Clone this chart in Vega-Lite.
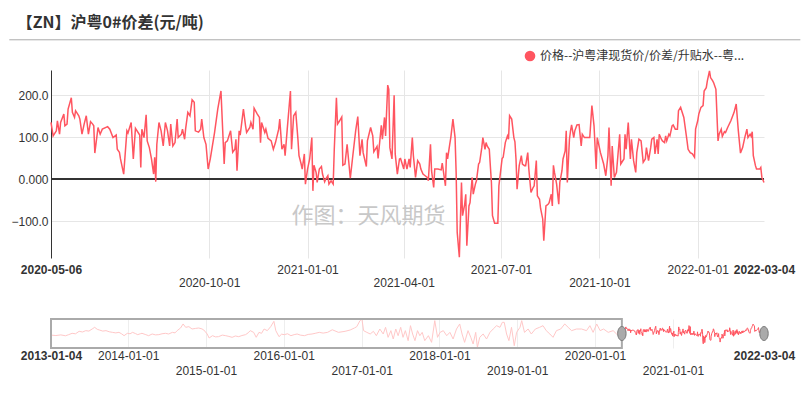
{
"$schema": "https://vega.github.io/schema/vega-lite/v6.json",
"background": "#ffffff",
"padding": {"left": 8, "top": 15, "right": 5, "bottom": 5},
"title": {"text": "【ZN】沪粤0#价差(元/吨)", "anchor": "start", "frame": "bounds", "font": "Noto Sans CJK SC", "fontSize": 16, "fontWeight": "bold", "color": "#333333", "offset": 8, "dx": 8},
"datasets": {
"zn": [
{"date":"2013-01-04","value":10},{"date":"2013-01-27","value":0},{"date":"2013-02-19","value":15},{"date":"2013-03-13","value":-5},{"date":"2013-03-28","value":20},{"date":"2013-04-13","value":50},{"date":"2013-04-29","value":40},{"date":"2013-05-16","value":95},{"date":"2013-06-01","value":80},{"date":"2013-06-16","value":110},{"date":"2013-07-01","value":100},{"date":"2013-07-16","value":147},{"date":"2013-07-28","value":185},{"date":"2013-08-09","value":140},{"date":"2013-08-19","value":125},{"date":"2013-09-04","value":100},{"date":"2013-09-19","value":110},{"date":"2013-10-04","value":85},{"date":"2013-10-19","value":72},{"date":"2013-11-04","value":60},{"date":"2013-11-19","value":72},{"date":"2013-12-01","value":40},{"date":"2013-12-13","value":-3},{"date":"2013-12-28","value":50},
{"date":"2014-01-10","value":40},{"date":"2014-01-22","value":72},{"date":"2014-02-04","value":45},{"date":"2014-02-15","value":20},{"date":"2014-02-27","value":40},{"date":"2014-03-07","value":50},{"date":"2014-03-22","value":25},{"date":"2014-04-07","value":-3},{"date":"2014-04-24","value":35},{"date":"2014-05-09","value":15},{"date":"2014-05-25","value":20},{"date":"2014-06-09","value":40},{"date":"2014-06-25","value":50},{"date":"2014-07-10","value":35},{"date":"2014-07-28","value":72},{"date":"2014-08-09","value":60},{"date":"2014-08-19","value":110},{"date":"2014-09-04","value":170},{"date":"2014-09-16","value":260},{"date":"2014-09-28","value":185},{"date":"2014-10-13","value":200},{"date":"2014-10-28","value":147},{"date":"2014-11-13","value":160},{"date":"2014-11-28","value":170},{"date":"2014-12-13","value":150},{"date":"2014-12-22","value":125},
{"date":"2015-01-07","value":35},{"date":"2015-01-16","value":-55},{"date":"2015-02-01","value":-3},{"date":"2015-02-15","value":-30},{"date":"2015-03-01","value":-25},{"date":"2015-03-19","value":10},{"date":"2015-04-04","value":-3},{"date":"2015-04-19","value":-20},{"date":"2015-05-04","value":-40},{"date":"2015-05-19","value":-10},{"date":"2015-06-04","value":-25},{"date":"2015-06-19","value":0},{"date":"2015-07-06","value":20},{"date":"2015-07-18","value":60},{"date":"2015-07-28","value":110},{"date":"2015-08-13","value":72},{"date":"2015-08-25","value":-40},{"date":"2015-09-07","value":72},{"date":"2015-09-19","value":50},{"date":"2015-10-01","value":147},{"date":"2015-10-16","value":110},{"date":"2015-11-01","value":200},{"date":"2015-11-16","value":320},{"date":"2015-11-25","value":110},{"date":"2015-12-10","value":-25},{"date":"2015-12-22","value":30},
{"date":"2016-01-04","value":20},{"date":"2016-01-19","value":40},{"date":"2016-02-04","value":-3},{"date":"2016-02-19","value":20},{"date":"2016-03-04","value":35},{"date":"2016-03-19","value":10},{"date":"2016-04-07","value":-3},{"date":"2016-04-25","value":25},{"date":"2016-05-13","value":35},{"date":"2016-05-28","value":50},{"date":"2016-06-16","value":72},{"date":"2016-07-04","value":55},{"date":"2016-07-25","value":72},{"date":"2016-08-16","value":130},{"date":"2016-09-14","value":72},{"date":"2016-10-15","value":95},{"date":"2016-11-08","value":125},{"date":"2016-11-28","value":170},{"date":"2016-12-09","value":200},{"date":"2016-12-24","value":335},
{"date":"2017-01-02","value":372},{"date":"2017-01-10","value":110},{"date":"2017-01-25","value":72},{"date":"2017-02-10","value":35},{"date":"2017-02-25","value":95},{"date":"2017-03-11","value":-3},{"date":"2017-03-27","value":147},{"date":"2017-04-12","value":35},{"date":"2017-04-23","value":185},{"date":"2017-05-05","value":-40},{"date":"2017-05-18","value":110},{"date":"2017-05-29","value":-78},{"date":"2017-06-10","value":147},{"date":"2017-06-21","value":-3},{"date":"2017-07-03","value":185},{"date":"2017-07-14","value":-40},{"date":"2017-07-25","value":110},{"date":"2017-08-07","value":-115},{"date":"2017-08-18","value":222},{"date":"2017-08-28","value":35},{"date":"2017-09-08","value":-115},{"date":"2017-09-20","value":110},{"date":"2017-10-01","value":-3},{"date":"2017-10-12","value":72},{"date":"2017-10-24","value":-115},{"date":"2017-11-10","value":-3},{"date":"2017-11-25","value":-153},{"date":"2017-12-10","value":335},{"date":"2017-12-23","value":-40},
{"date":"2018-01-04","value":72},{"date":"2018-01-19","value":110},{"date":"2018-02-04","value":-3},{"date":"2018-02-19","value":72},{"date":"2018-03-06","value":-78},{"date":"2018-03-22","value":147},{"date":"2018-04-06","value":260},{"date":"2018-04-17","value":35},{"date":"2018-04-29","value":-153},{"date":"2018-05-15","value":110},{"date":"2018-05-28","value":-40},{"date":"2018-06-08","value":-190},{"date":"2018-06-20","value":72},{"date":"2018-06-28","value":-265},{"date":"2018-07-09","value":-40},{"date":"2018-07-25","value":35},{"date":"2018-08-10","value":-78},{"date":"2018-08-26","value":72},{"date":"2018-09-10","value":147},{"date":"2018-09-26","value":222},{"date":"2018-10-12","value":185},{"date":"2018-10-23","value":297},{"date":"2018-11-01","value":297},{"date":"2018-11-12","value":35},{"date":"2018-11-23","value":-115},{"date":"2018-12-05","value":185},{"date":"2018-12-18","value":-228},{"date":"2018-12-29","value":72},
{"date":"2019-01-14","value":185},{"date":"2019-01-22","value":335},{"date":"2019-02-04","value":72},{"date":"2019-02-21","value":147},{"date":"2019-03-08","value":35},{"date":"2019-03-27","value":147},{"date":"2019-04-16","value":185},{"date":"2019-05-02","value":222},{"date":"2019-05-17","value":110},{"date":"2019-06-03","value":35},{"date":"2019-06-18","value":-40},{"date":"2019-07-04","value":110},{"date":"2019-07-24","value":147},{"date":"2019-08-12","value":260},{"date":"2019-08-28","value":185},{"date":"2019-09-13","value":110},{"date":"2019-10-06","value":147},{"date":"2019-10-30","value":147},{"date":"2019-11-22","value":110},{"date":"2019-12-08","value":222},{"date":"2019-12-23","value":72},
{"date":"2020-01-09","value":260},{"date":"2020-01-25","value":110},{"date":"2020-02-10","value":147},{"date":"2020-03-03","value":72},{"date":"2020-03-26","value":110},{"date":"2020-04-11","value":35},
{"date":"2020-05-06","value":135},{"date":"2020-05-08","value":103},{"date":"2020-05-11","value":115},{"date":"2020-05-12","value":139},{"date":"2020-05-14","value":107},{"date":"2020-05-15","value":135},{"date":"2020-05-18","value":155},{"date":"2020-05-19","value":127},{"date":"2020-05-21","value":131},{"date":"2020-05-22","value":167},{"date":"2020-05-25","value":194},{"date":"2020-05-26","value":159},{"date":"2020-05-28","value":147},{"date":"2020-05-29","value":163},
{"date":"2020-06-01","value":151},{"date":"2020-06-02","value":143},{"date":"2020-06-04","value":107},{"date":"2020-06-06","value":131},{"date":"2020-06-08","value":151},{"date":"2020-06-10","value":107},{"date":"2020-06-12","value":137},{"date":"2020-06-14","value":131},{"date":"2020-06-15","value":127},{"date":"2020-06-16","value":62},{"date":"2020-06-19","value":123},{"date":"2020-06-21","value":107},{"date":"2020-06-23","value":119},{"date":"2020-06-28","value":125},{"date":"2020-06-30","value":119},
{"date":"2020-07-03","value":99},{"date":"2020-07-06","value":105},{"date":"2020-07-07","value":71},{"date":"2020-07-09","value":64},{"date":"2020-07-10","value":48},{"date":"2020-07-13","value":12},{"date":"2020-07-16","value":115},{"date":"2020-07-17","value":110},{"date":"2020-07-20","value":135},{"date":"2020-07-22","value":48},{"date":"2020-07-24","value":121},{"date":"2020-07-28","value":105},{"date":"2020-07-29","value":28},{"date":"2020-07-30","value":119},
{"date":"2020-08-01","value":99},{"date":"2020-08-03","value":153},{"date":"2020-08-04","value":91},{"date":"2020-08-06","value":75},{"date":"2020-08-08","value":48},{"date":"2020-08-10","value":12},{"date":"2020-08-11","value":52},{"date":"2020-08-12","value":-6},{"date":"2020-08-13","value":83},{"date":"2020-08-15","value":135},{"date":"2020-08-17","value":115},{"date":"2020-08-19","value":79},{"date":"2020-08-21","value":135},{"date":"2020-08-23","value":115},{"date":"2020-08-25","value":79},{"date":"2020-08-26","value":131},{"date":"2020-08-28","value":79},{"date":"2020-08-30","value":87},
{"date":"2020-09-01","value":143},{"date":"2020-09-02","value":99},{"date":"2020-09-05","value":107},{"date":"2020-09-06","value":119},{"date":"2020-09-08","value":95},{"date":"2020-09-09","value":121},{"date":"2020-09-11","value":159},{"date":"2020-09-13","value":151},{"date":"2020-09-15","value":189},{"date":"2020-09-17","value":183},{"date":"2020-09-18","value":115},{"date":"2020-09-21","value":112},{"date":"2020-09-23","value":119},{"date":"2020-09-24","value":143},{"date":"2020-09-26","value":99},{"date":"2020-09-28","value":83},{"date":"2020-09-30","value":24},
{"date":"2020-10-02","value":48},{"date":"2020-10-06","value":111},{"date":"2020-10-09","value":167},{"date":"2020-10-12","value":210},{"date":"2020-10-15","value":36},{"date":"2020-10-16","value":87},{"date":"2020-10-18","value":91},{"date":"2020-10-21","value":115},{"date":"2020-10-23","value":64},{"date":"2020-10-25","value":71},{"date":"2020-10-26","value":95},{"date":"2020-10-27","value":20},{"date":"2020-10-29","value":115},{"date":"2020-10-30","value":105},
{"date":"2020-11-02","value":167},{"date":"2020-11-04","value":127},{"date":"2020-11-05","value":111},{"date":"2020-11-08","value":123},{"date":"2020-11-09","value":135},{"date":"2020-11-11","value":119},{"date":"2020-11-12","value":169},{"date":"2020-11-15","value":155},{"date":"2020-11-17","value":147},{"date":"2020-11-18","value":87},{"date":"2020-11-19","value":135},{"date":"2020-11-22","value":111},{"date":"2020-11-23","value":119},{"date":"2020-11-25","value":97},{"date":"2020-11-28","value":91},{"date":"2020-11-30","value":71},
{"date":"2020-12-02","value":87},{"date":"2020-12-05","value":119},{"date":"2020-12-06","value":143},{"date":"2020-12-08","value":71},{"date":"2020-12-10","value":83},{"date":"2020-12-11","value":56},{"date":"2020-12-13","value":119},{"date":"2020-12-16","value":210},{"date":"2020-12-17","value":71},{"date":"2020-12-19","value":151},{"date":"2020-12-21","value":159},{"date":"2020-12-23","value":95},{"date":"2020-12-24","value":56},{"date":"2020-12-26","value":36},{"date":"2020-12-27","value":24},{"date":"2020-12-29","value":60},{"date":"2020-12-30","value":-12},
{"date":"2021-01-01","value":24},{"date":"2021-01-03","value":48},{"date":"2021-01-05","value":99},{"date":"2021-01-06","value":-28},{"date":"2021-01-07","value":33},{"date":"2021-01-09","value":16},{"date":"2021-01-10","value":-8},{"date":"2021-01-12","value":24},{"date":"2021-01-14","value":30},{"date":"2021-01-15","value":12},{"date":"2021-01-17","value":-6},{"date":"2021-01-18","value":0},{"date":"2021-01-20","value":8},{"date":"2021-01-21","value":-12},{"date":"2021-01-23","value":-4},{"date":"2021-01-25","value":-12},{"date":"2021-01-26","value":71},{"date":"2021-01-28","value":194},{"date":"2021-01-29","value":131},{"date":"2021-01-31","value":139},
{"date":"2021-02-02","value":148},{"date":"2021-02-03","value":33},{"date":"2021-02-05","value":36},{"date":"2021-02-07","value":83},{"date":"2021-02-10","value":2},{"date":"2021-02-12","value":48},{"date":"2021-02-15","value":115},{"date":"2021-02-17","value":149},{"date":"2021-02-19","value":56},{"date":"2021-02-21","value":95},{"date":"2021-02-22","value":63},{"date":"2021-02-25","value":30},{"date":"2021-02-26","value":91},
{"date":"2021-03-01","value":123},{"date":"2021-03-03","value":103},{"date":"2021-03-04","value":65},{"date":"2021-03-07","value":78},{"date":"2021-03-08","value":49},{"date":"2021-03-11","value":128},{"date":"2021-03-12","value":95},{"date":"2021-03-14","value":147},{"date":"2021-03-15","value":103},{"date":"2021-03-17","value":224},{"date":"2021-03-18","value":214},{"date":"2021-03-19","value":75},{"date":"2021-03-21","value":48},{"date":"2021-03-23","value":200},{"date":"2021-03-24","value":60},{"date":"2021-03-26","value":12},{"date":"2021-03-28","value":48},{"date":"2021-03-29","value":49},
{"date":"2021-04-01","value":24},{"date":"2021-04-02","value":48},{"date":"2021-04-04","value":24},{"date":"2021-04-06","value":48},{"date":"2021-04-07","value":28},{"date":"2021-04-09","value":99},{"date":"2021-04-10","value":56},{"date":"2021-04-12","value":4},{"date":"2021-04-14","value":44},{"date":"2021-04-16","value":36},{"date":"2021-04-17","value":24},{"date":"2021-04-19","value":12},{"date":"2021-04-21","value":8},{"date":"2021-04-23","value":4},{"date":"2021-04-24","value":-4},{"date":"2021-04-26","value":83},{"date":"2021-04-27","value":20},{"date":"2021-04-29","value":-20},{"date":"2021-04-30","value":24},
{"date":"2021-05-03","value":24},{"date":"2021-05-06","value":22},{"date":"2021-05-07","value":38},{"date":"2021-05-08","value":20},{"date":"2021-05-10","value":-16},{"date":"2021-05-11","value":63},{"date":"2021-05-12","value":48},{"date":"2021-05-14","value":83},{"date":"2021-05-15","value":99},{"date":"2021-05-17","value":143},{"date":"2021-05-19","value":99},{"date":"2021-05-20","value":16},{"date":"2021-05-21","value":-127},{"date":"2021-05-23","value":-186},{"date":"2021-05-25","value":-8},{"date":"2021-05-26","value":-87},{"date":"2021-05-28","value":-60},{"date":"2021-05-29","value":-36},{"date":"2021-05-30","value":-159},
{"date":"2021-06-01","value":-64},{"date":"2021-06-02","value":-56},{"date":"2021-06-04","value":4},{"date":"2021-06-05","value":-36},{"date":"2021-06-07","value":-12},{"date":"2021-06-08","value":-4},{"date":"2021-06-10","value":36},{"date":"2021-06-11","value":40},{"date":"2021-06-13","value":75},{"date":"2021-06-14","value":99},{"date":"2021-06-16","value":71},{"date":"2021-06-17","value":87},{"date":"2021-06-18","value":79},{"date":"2021-06-20","value":71},{"date":"2021-06-22","value":-8},{"date":"2021-06-23","value":-87},{"date":"2021-06-25","value":-105},{"date":"2021-06-28","value":-105},{"date":"2021-06-29","value":-16},
{"date":"2021-07-02","value":49},{"date":"2021-07-03","value":52},{"date":"2021-07-05","value":87},{"date":"2021-07-07","value":103},{"date":"2021-07-08","value":95},{"date":"2021-07-09","value":151},{"date":"2021-07-11","value":143},{"date":"2021-07-13","value":99},{"date":"2021-07-14","value":89},{"date":"2021-07-15","value":48},{"date":"2021-07-16","value":-24},{"date":"2021-07-18","value":32},{"date":"2021-07-20","value":56},{"date":"2021-07-21","value":36},{"date":"2021-07-23","value":32},{"date":"2021-07-24","value":32},{"date":"2021-07-26","value":63},{"date":"2021-07-27","value":24},{"date":"2021-07-29","value":-32},{"date":"2021-07-31","value":-20},
{"date":"2021-08-01","value":-16},{"date":"2021-08-03","value":44},{"date":"2021-08-04","value":-40},{"date":"2021-08-06","value":-48},{"date":"2021-08-07","value":-70},{"date":"2021-08-09","value":-95},{"date":"2021-08-10","value":-147},{"date":"2021-08-12","value":-64},{"date":"2021-08-14","value":-60},{"date":"2021-08-15","value":-56},{"date":"2021-08-17","value":-36},{"date":"2021-08-18","value":-64},{"date":"2021-08-19","value":33},{"date":"2021-08-20","value":16},{"date":"2021-08-22","value":-12},{"date":"2021-08-24","value":-60},{"date":"2021-08-25","value":-8},{"date":"2021-08-27","value":20},{"date":"2021-08-28","value":48},{"date":"2021-08-30","value":67},{"date":"2021-08-31","value":115},
{"date":"2021-09-01","value":-8},{"date":"2021-09-03","value":95},{"date":"2021-09-04","value":115},{"date":"2021-09-05","value":129},{"date":"2021-09-07","value":99},{"date":"2021-09-08","value":115},{"date":"2021-09-10","value":129},{"date":"2021-09-12","value":130},{"date":"2021-09-14","value":79},{"date":"2021-09-15","value":107},{"date":"2021-09-17","value":99},{"date":"2021-09-22","value":99},{"date":"2021-09-24","value":175},{"date":"2021-09-26","value":127},{"date":"2021-09-28","value":24},{"date":"2021-09-29","value":99},
{"date":"2021-10-02","value":63},{"date":"2021-10-05","value":36},{"date":"2021-10-07","value":8},{"date":"2021-10-09","value":56},{"date":"2021-10-10","value":123},{"date":"2021-10-12","value":-16},{"date":"2021-10-13","value":79},{"date":"2021-10-15","value":4},{"date":"2021-10-17","value":16},{"date":"2021-10-20","value":107},{"date":"2021-10-21","value":36},{"date":"2021-10-24","value":48},{"date":"2021-10-25","value":107},{"date":"2021-10-26","value":71},{"date":"2021-10-28","value":135},{"date":"2021-10-30","value":48},{"date":"2021-10-31","value":95},
{"date":"2021-11-02","value":44},{"date":"2021-11-04","value":16},{"date":"2021-11-05","value":63},{"date":"2021-11-07","value":95},{"date":"2021-11-09","value":91},{"date":"2021-11-11","value":40},{"date":"2021-11-13","value":48},{"date":"2021-11-14","value":75},{"date":"2021-11-16","value":44},{"date":"2021-11-18","value":75},{"date":"2021-11-19","value":95},{"date":"2021-11-21","value":99},{"date":"2021-11-22","value":60},{"date":"2021-11-24","value":95},{"date":"2021-11-25","value":60},{"date":"2021-11-26","value":107},{"date":"2021-11-28","value":95},{"date":"2021-11-29","value":91},
{"date":"2021-12-01","value":87},{"date":"2021-12-02","value":103},{"date":"2021-12-03","value":91},{"date":"2021-12-05","value":107},{"date":"2021-12-06","value":103},{"date":"2021-12-08","value":127},{"date":"2021-12-09","value":129},{"date":"2021-12-11","value":119},{"date":"2021-12-13","value":119},{"date":"2021-12-14","value":163},{"date":"2021-12-16","value":171},{"date":"2021-12-17","value":163},{"date":"2021-12-19","value":147},{"date":"2021-12-22","value":91},{"date":"2021-12-23","value":71},{"date":"2021-12-25","value":63},{"date":"2021-12-27","value":60},{"date":"2021-12-29","value":52},{"date":"2021-12-30","value":119},
{"date":"2022-01-01","value":139},{"date":"2022-01-02","value":155},{"date":"2022-01-04","value":171},{"date":"2022-01-06","value":175},{"date":"2022-01-07","value":210},{"date":"2022-01-09","value":218},{"date":"2022-01-10","value":234},{"date":"2022-01-12","value":258},{"date":"2022-01-13","value":242},{"date":"2022-01-15","value":234},{"date":"2022-01-16","value":229},{"date":"2022-01-18","value":214},{"date":"2022-01-20","value":91},{"date":"2022-01-21","value":107},{"date":"2022-01-23","value":119},{"date":"2022-01-24","value":102},{"date":"2022-01-26","value":113},{"date":"2022-01-27","value":111},{"date":"2022-01-29","value":123},
{"date":"2022-02-01","value":139},{"date":"2022-02-04","value":159},{"date":"2022-02-06","value":179},{"date":"2022-02-08","value":115},{"date":"2022-02-10","value":62},{"date":"2022-02-12","value":75},{"date":"2022-02-14","value":99},{"date":"2022-02-16","value":119},{"date":"2022-02-17","value":99},{"date":"2022-02-19","value":107},{"date":"2022-02-20","value":102},{"date":"2022-02-21","value":113},{"date":"2022-02-22","value":56},{"date":"2022-02-24","value":32},{"date":"2022-02-25","value":24},{"date":"2022-02-28","value":24},
{"date":"2022-03-01","value":28},{"date":"2022-03-02","value":4},{"date":"2022-03-04","value":-8}
]
},
"vconcat": [
{
"width": 713,
"height": 188,
"layer": [
{
"data": {"values": [{"t": "作图：天风期货", "d": "2021-02-27", "v": -88}]},
"mark": {"type": "text", "font": "Noto Sans CJK SC", "fontSize": 22, "color": "#c8c8c8", "align": "center", "baseline": "middle"},
"encoding": {
"x": {"field": "d", "type": "temporal"},
"y": {"field": "v", "type": "quantitative"},
"text": {"field": "t"}
}
},
{
"data": {"values": [{}]},
"mark": {"type": "rule", "color": "#333333", "strokeWidth": 2},
"encoding": {"y": {"datum": 0, "type": "quantitative"}}
},
{
"data": {"name": "zn"},
"transform": [{"filter": "+toDate(datum.date) >= utc(2020, 4, 6)"}],
"mark": {"type": "line", "strokeWidth": 1.5},
"encoding": {
"x": {"field": "date", "type": "temporal",
"scale": {"type": "utc", "nice": false, "domain": [{"year": 2020, "month": 5, "date": 6, "utc": true}, {"year": 2022, "month": 3, "date": 4, "utc": true}]},
"axis": {"title": null, "domain": false, "ticks": false, "grid": true, "gridColor": "#e6e6e6",
"gridOpacity": {"condition": {"test": "utcdate(datum.value) == 1", "value": 1}, "value": 0},
"values": [{"year": 2020, "month": 5, "date": 6, "utc": true}, {"year": 2020, "month": 10, "date": 1, "utc": true}, {"year": 2021, "month": 1, "date": 1, "utc": true}, {"year": 2021, "month": 4, "date": 1, "utc": true}, {"year": 2021, "month": 7, "date": 1, "utc": true}, {"year": 2021, "month": 10, "date": 1, "utc": true}, {"year": 2022, "month": 1, "date": 1, "utc": true}, {"year": 2022, "month": 3, "date": 4, "utc": true}],
"labelExpr": "(utcmonth(datum.value) == 3 || utcmonth(datum.value) == 9) ? ['', utcFormat(datum.value, '%Y-%m-%d')] : utcFormat(datum.value, '%Y-%m-%d')",
"labelLineHeight": 13,
"labelFont": "Liberation Sans", "labelFontSize": 12, "labelColor": "#333333",
"labelOverlap": false, "labelBound": false, "labelFlush": false, "labelPadding": 6,
"labelFontWeight": {"condition": {"test": "utcdate(datum.value) != 1", "value": "bold"}, "value": "normal"}
}
},
"y": {"field": "value", "type": "quantitative",
"scale": {"domain": [-188, 260], "nice": false, "zero": false},
"axis": {"title": null, "ticks": false, "domain": true, "domainColor": "#333333", "domainWidth": 1, "grid": true, "gridColor": "#e6e6e6",
"values": [-100, 0, 100, 200],
"labelExpr": "datum.value == 0 ? '0.000' : format(datum.value, '.1f')",
"labelFont": "Liberation Sans", "labelFontSize": 12, "labelColor": "#333333", "labelPadding": 3}
},
"color": {"datum": "价格--沪粤津现货价/价差/升贴水--粤...", "type": "nominal",
"scale": {"range": ["#ff5560"]},
"legend": {"orient": "none", "legendX": 473, "legendY": -20, "title": null, "symbolType": "circle", "symbolSize": 113, "symbolFillColor": "#ff5560", "symbolStrokeColor": "#ff5560", "symbolStrokeWidth": 0, "symbolOpacity": 1, "labelFont": "Noto Sans CJK SC", "labelFontSize": 12, "labelColor": "#333333", "labelLimit": 400, "padding": 0}
}
}
},
{
"data": {"values": [{"a": "2020-03-28", "b": "2022-04-07", "v": 332}]},
"mark": {"type": "rule", "color": "#aaaaaa", "strokeWidth": 1},
"encoding": {
"x": {"field": "a", "type": "temporal"},
"x2": {"field": "b"},
"y": {"field": "v", "type": "quantitative"}
}
}
]
},
{
"width": 713,
"height": 29,
"layer": [
{
"data": {"name": "zn"},
"transform": [{"filter": "+toDate(datum.date) <= utc(2020, 4, 6)"}],
"mark": {"type": "line", "strokeWidth": 1, "color": "#ffc8c8"},
"encoding": {
"x": {"field": "date", "type": "temporal",
"scale": {"type": "utc", "nice": false, "domain": [{"year": 2013, "month": 1, "date": 4, "utc": true}, {"year": 2022, "month": 3, "date": 4, "utc": true}]},
"axis": {"title": null, "domain": false, "ticks": false, "grid": true, "gridColor": "#eeeeee",
"gridOpacity": {"condition": {"test": "utcdate(datum.value) == 1", "value": 1}, "value": 0},
"values": [{"year": 2013, "month": 1, "date": 4, "utc": true}, {"year": 2014, "month": 1, "date": 1, "utc": true}, {"year": 2015, "month": 1, "date": 1, "utc": true}, {"year": 2016, "month": 1, "date": 1, "utc": true}, {"year": 2017, "month": 1, "date": 1, "utc": true}, {"year": 2018, "month": 1, "date": 1, "utc": true}, {"year": 2019, "month": 1, "date": 1, "utc": true}, {"year": 2020, "month": 1, "date": 1, "utc": true}, {"year": 2021, "month": 1, "date": 1, "utc": true}, {"year": 2022, "month": 3, "date": 4, "utc": true}],
"labelExpr": "(utcdate(datum.value) == 1 && utcyear(datum.value) % 2 == 1) ? ['', utcFormat(datum.value, '%Y-%m-%d')] : utcFormat(datum.value, '%Y-%m-%d')",
"labelLineHeight": 15,
"labelFont": "Liberation Sans", "labelFontSize": 12, "labelColor": "#333333",
"labelOverlap": false, "labelBound": false, "labelFlush": false, "labelPadding": 2,
"labelFontWeight": {"condition": {"test": "utcdate(datum.value) != 1", "value": "bold"}, "value": "normal"}
}
},
"y": {"field": "value", "type": "quantitative", "scale": {"domain": [-280, 372], "nice": false, "zero": false}, "axis": null}
}
},
{
"data": {"name": "zn"},
"transform": [{"filter": "+toDate(datum.date) >= utc(2020, 4, 6)"}],
"mark": {"type": "line", "strokeWidth": 1, "color": "#ff5560"},
"encoding": {
"x": {"field": "date", "type": "temporal"},
"y": {"field": "value", "type": "quantitative", "axis": null}
}
},
{
"data": {"values": [{"s": "2013-01-04", "e": "2020-05-06", "lo": -280, "hi": 372}]},
"mark": {"type": "rect", "fill": "transparent", "stroke": "#aaaaaa", "strokeWidth": 2},
"encoding": {
"x": {"field": "s", "type": "temporal"},
"x2": {"field": "e"},
"y": {"field": "hi", "type": "quantitative", "axis": null},
"y2": {"field": "lo"}
}
},
{
"data": {"values": [{"date": "2020-05-06", "v": 46}, {"date": "2022-03-04", "v": 46}]},
"mark": {"type": "point", "shape": "M0,-1A0.6,1,0,1,1,0,1A0.6,1,0,1,1,0,-1Z", "filled": true, "fill": "#aaaaaa", "stroke": "#777777", "strokeWidth": 1, "size": 196, "opacity": 1},
"encoding": {
"x": {"field": "date", "type": "temporal"},
"y": {"field": "v", "type": "quantitative", "axis": null}
}
}
]
}
],
"spacing": 61,
"bounds": "flush",
"config": {"view": {"stroke": null}}
}
